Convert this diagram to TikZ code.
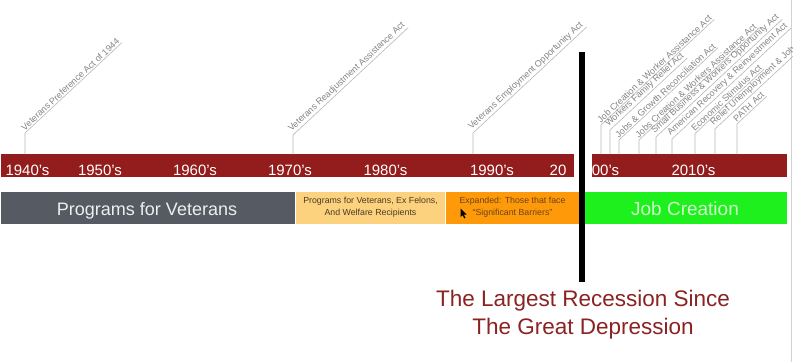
\documentclass[tikz,border=0pt]{standalone}
\usepackage{fontspec}
\setmainfont{Liberation Sans}
\definecolor{barred}{HTML}{931C1C}
\definecolor{slate}{HTML}{555A63}
\definecolor{lightorange}{HTML}{FDD27E}
\definecolor{orangebox}{HTML}{FE9A0A}
\definecolor{jobgreen}{HTML}{1DF01D}
\definecolor{jobtext}{HTML}{D2F7CC}
\definecolor{recred}{HTML}{8B2323}
\definecolor{lblgray}{HTML}{858585}
\definecolor{tickgray}{HTML}{B8B8B8}
\definecolor{ytext}{HTML}{4A3B22}
\definecolor{otext}{HTML}{6E4213}
\begin{document}
\begin{tikzpicture}[x=1pt,y=-1pt,
  bar/.style={anchor=north west, inner sep=0pt, minimum height=#1},
  yr/.style={anchor=base, text=white, inner sep=0pt, font=\fontsize{15}{15}\selectfont},
  act/.style={rotate=43, anchor=south west, text=lblgray, inner xsep=1pt, inner ysep=1.2pt,
     font=\fontsize{9}{9}\selectfont},
  tickline/.style={draw=tickgray, line width=0.6pt},
  small/.style={align=center, inner sep=0pt, font=\fontsize{8.8}{12}\selectfont}]
\useasboundingbox (0,0) rectangle (793,362);
\clip (0,0) rectangle (793,362);
\fill[white] (0,0) rectangle (793,362);
\draw[gray!35, line width=0.8pt] (791.6,0) -- (791.6,362);

% timeline bars
\node[bar=23pt, fill=barred, minimum width=573pt] (barA) at (1,154) {};
\node[bar=23pt, fill=barred, minimum width=195pt] (barB) at (592,154) {};

% decade labels
\node[yr] (y40) at (27.5,175) {1940's};
\node[yr] (y50) at (100,175) {1950's};
\node[yr] (y60) at (195,175) {1960's};
\node[yr] (y70) at (290,175) {1970's};
\node[yr] (y80) at (385.5,175) {1980's};
\node[yr] (y90) at (492,175) {1990's};
\node[yr] (y20) at (558,175) {20};
\node[yr] (y00) at (605.5,175) {00's};
\node[yr] (y10) at (693.5,175) {2010's};

% program bars
\node[bar=32pt, fill=slate, minimum width=294pt] (pv) at (1,192) {};
\node[bar=32pt, fill=lightorange, minimum width=149pt] (pf) at (296,192) {};
\node[bar=32pt, fill=orangebox, minimum width=136pt] (pb) at (446,192) {};
\node[bar=32pt, fill=jobgreen, minimum width=202pt] (pj) at (585,192) {};
\node[anchor=base, inner sep=0pt, text=white!90!slate, font=\fontsize{18}{18}\selectfont] (tpv) at (147,215.5) {Programs for Veterans};
\node[small, text=ytext] (tpf) at (370.5,207.5) {Programs for Veterans, Ex Felons,\\And Welfare Recipients};
\node[small, text=otext] (tpb) at (512.5,207.5) {Expanded: Those that face\\``Significant Barriers''};
\node[anchor=base, inner sep=0pt, text=jobtext, font=\fontsize{19}{19}\selectfont] (tpj) at (685,215) {Job Creation};
% mouse pointer
\fill[black] (460.5,208.5) -- (460.5,217) -- (462.6,215.2) -- (464.2,218.4) -- (465.4,217.8) -- (463.9,214.7) -- (466.6,214.5) -- cycle;

% act labels
\foreach \n/\x/\y/\t in {
  a/25/133/Veterans Preference Act of 1944,
  b/293/135/Veterans Readjustment Assistance Act,
  c/473/133/Veterans Employment Opportunity Act,
  d/601/125/Job Creation \& Worker Assistance Act,
  e/610/130/Workers Family Relief Act,
  f/619/140/Jobs \& Growth Reconciliation Act,
  g/639/140/Jobs Creation \& Workers Assistance Act,
  h/656/137/Small Business \& Workers Opportunity Act,
  i/672/139/American Recovery \& Reinvestment Act,
  j/695/133.5/Economic Stimulus Act,
  k/715/129/Relief Unemployment \& Job C,
  l/737/124/PATH Act}{
  \coordinate (base\n) at (\x,154);
  \node[act] (act\n) at (\x,\y) {\t};
  \draw[tickline] (base\n) -- (act\n.south west) -- (act\n.south east);
}

% recession marker
\coordinate (rtop) at (582,52);
\coordinate (rbot) at (582,282);
\draw[line width=6pt] (rtop) -- (rbot);
\node[align=center, inner sep=0pt, text=recred, font=\fontsize{22.5}{28}\selectfont] (rec) at (583,315)
  {The Largest Recession Since\\The Great Depression};
\end{tikzpicture}
\end{document}
